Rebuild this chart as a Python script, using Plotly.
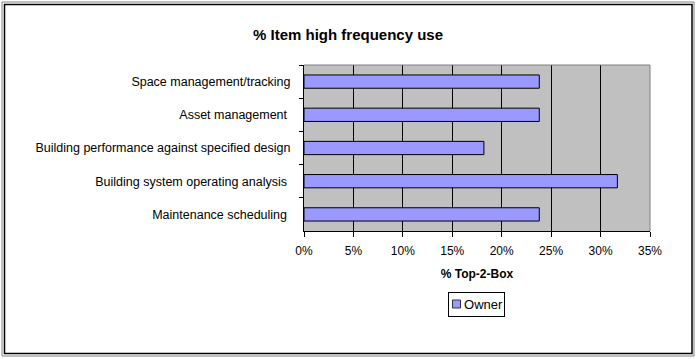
import plotly.graph_objects as go

categories = [
    "Space management/tracking",
    "Asset management\u00a0",
    "Building performance against specified design",
    "Building system operating analysis\u00a0",
    "Maintenance scheduling\u00a0",
]
owner_values = [23.8, 23.8, 18.2, 31.7, 23.8]
x_ticks = [0, 5, 10, 15, 20, 25, 30, 35]
x_tick_labels = [f"{v}%" for v in x_ticks]
series_name = "Owner"
bar_color = "#9999FF"

W, H = 696, 359
L, R, T, B = 304, 46, 65, 128
PW = W - L - R
PH = H - T - B

def px(x):
    return (x - L) / PW

def py(y):
    return (H - B - y) / PH

FONT = "Liberation Sans, Arial, sans-serif"

fig = go.Figure()
fig.add_trace(go.Bar(
    y=categories, x=owner_values, orientation="h", name=series_name,
    marker=dict(color=bar_color, line=dict(color="black", width=1)),
    showlegend=False,
))

fig.update_layout(
    width=W, height=H,
    margin=dict(l=L, r=R, t=T, b=B),
    paper_bgcolor="white", plot_bgcolor="#C0C0C0",
    font=dict(family=FONT, size=12, color="black"),
    bargap=0.6,
    title=dict(text="<b>% Item high frequency use</b>", x=0.5, xref="container",
               xanchor="center", y=1 - 35 / H, yanchor="middle", font=dict(size=15)),
    xaxis=dict(range=[0, 35], tickvals=x_ticks, ticktext=x_tick_labels,
               showgrid=True, gridcolor="black", gridwidth=1,
               showline=True, linecolor="black", linewidth=1,
               ticks="outside", ticklen=5, tickcolor="black", ticklabelstandoff=4,
               zeroline=False, tickfont=dict(size=12),
               title=dict(text="<b>% Top-2-Box</b>", font=dict(size=12), standoff=12)),
    yaxis=dict(categoryorder="array", categoryarray=categories, autorange="reversed",
               showline=True, linecolor="black", linewidth=1,
               ticks="outside", ticklen=4, tickcolor="black", tickson="boundaries",
               ticklabelstandoff=10, showgrid=False, tickfont=dict(size=12.5)),
    annotations=[
        dict(xref="paper", yref="paper", x=px(476.5), y=py(304.5),
             xanchor="center", yanchor="middle", text=series_name,
             width=53, height=21, align="right", showarrow=False,
             bordercolor="black", borderwidth=1, borderpad=1,
             bgcolor="rgba(0,0,0,0)", font=dict(size=13)),
    ],
    shapes=[
        dict(type="path", xref="paper", yref="paper", path="M 0 1 L 1 1 L 1 0",
             line=dict(color="#808080", width=1), layer="above"),
        dict(type="rect", xref="paper", yref="paper",
             x0=px(452.5), x1=px(460.5), y0=py(300), y1=py(308),
             fillcolor=bar_color, line=dict(color="#333333", width=1), layer="above"),
        dict(type="rect", xref="paper", yref="paper",
             x0=px(2), x1=px(694), y0=py(2), y1=py(356),
             line=dict(color="#808080", width=1)),
        dict(type="rect", xref="paper", yref="paper",
             x0=px(4.5), x1=px(692), y0=py(4.5), y1=py(353.5),
             line=dict(color="black", width=1.5)),
    ],
)

fig.write_html("out.html")
